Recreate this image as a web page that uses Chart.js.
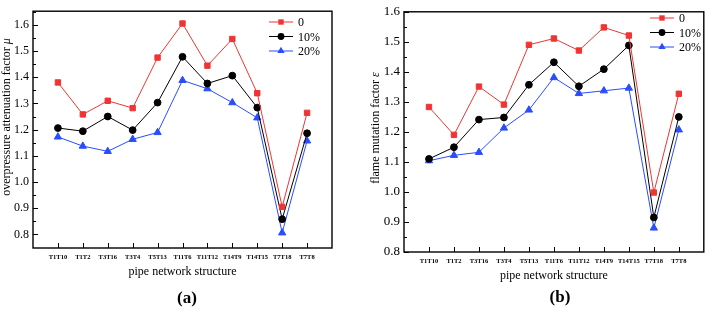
<!DOCTYPE html>
<html>
<head>
<meta charset="utf-8">
<script src="https://cdn.jsdelivr.net/npm/chart.js@4.4.0/dist/chart.umd.min.js"></script>
<style>
  body { margin: 0; background: #fff; }
  canvas { position: absolute; top: 0; }
</style>
</head>
<body>
<canvas id="chartA" style="left:0px" width="355" height="310"></canvas>
<canvas id="chartB" style="left:355px" width="354" height="310"></canvas>
<script>
// categories on the x axis (same for both panels)
const categories = ['T1T10', 'T1T2', 'T3T16', 'T3T4', 'T5T13', 'T11T6', 'T11T12', 'T14T9', 'T14T15', 'T7T18', 'T7T8'];
const seriesNames = ['0', '10%', '20%'];

// (a) overpressure attenuation factor
const mu0 = [1.380, 1.258, 1.310, 1.282, 1.475, 1.605, 1.444, 1.546, 1.339, 0.905, 1.264];
const mu10 = [1.206, 1.194, 1.250, 1.198, 1.303, 1.478, 1.376, 1.406, 1.284, 0.858, 1.186];
const mu20 = [1.172, 1.137, 1.117, 1.163, 1.189, 1.388, 1.356, 1.303, 1.245, 0.806, 1.157];
const muTicks = [0.8, 0.9, 1.0, 1.1, 1.2, 1.3, 1.4, 1.5, 1.6];

// (b) flame mutation factor
const eps0 = [1.283, 1.190, 1.351, 1.291, 1.490, 1.511, 1.471, 1.548, 1.521, 0.998, 1.327];
const eps10 = [1.110, 1.149, 1.241, 1.248, 1.357, 1.432, 1.352, 1.409, 1.488, 0.915, 1.250];
const eps20 = [1.104, 1.122, 1.132, 1.213, 1.273, 1.381, 1.328, 1.337, 1.346, 0.880, 1.207];
const epsTicks = [0.8, 0.9, 1.0, 1.1, 1.2, 1.3, 1.4, 1.5, 1.6];

const FONT = "'Liberation Serif', 'Times New Roman', serif";
const colors = ['#f03434', '#000000', '#2a4cff'];
const markers = ['rect', 'circle', 'triangle'];
const markerSize = [3.8, 3.4, 4.2];

function toPoints(values) {
  return values.map((v, i) => ({ x: i, y: v }));
}

// box round the plot + inward ticks
const framePlugin = {
  id: 'frame',
  afterDraw(chart) {
    const { ctx, chartArea: a, scales } = chart;
    const x = scales.x, y = scales.y;
    ctx.save();
    ctx.strokeStyle = '#000';
    ctx.lineWidth = 1.4;
    ctx.strokeRect(a.left, a.top, a.right - a.left, a.bottom - a.top);
    ctx.lineWidth = 1;
    ctx.beginPath();
    y.ticks.forEach((t) => {
      const py = Math.round(y.getPixelForValue(t.value)) + 0.5;
      ctx.moveTo(a.left, py);
      ctx.lineTo(a.left + 5, py);
      const minor = t.value + 0.05;
      if (minor < y.max - 0.001) {
        const pm = Math.round(y.getPixelForValue(minor)) + 0.5;
        ctx.moveTo(a.left, pm);
        ctx.lineTo(a.left + 3, pm);
      }
    });
    x.ticks.forEach((t) => {
      const px = Math.round(x.getPixelForValue(t.value)) + 0.5;
      ctx.moveTo(px, a.bottom);
      ctx.lineTo(px, a.bottom - 5);
    });
    ctx.stroke();
    ctx.restore();
  }
};

// y title with an italic symbol at the end, panel letter, legend inside the plot
const textPlugin = {
  id: 'texts',
  afterDraw(chart, args, opts) {
    const ctx = chart.ctx;
    ctx.save();
    ctx.fillStyle = '#000';
    ctx.textBaseline = 'middle';

    // y axis title
    ctx.translate(opts.titleX, opts.titleY);
    ctx.rotate(-Math.PI / 2);
    ctx.font = '12px ' + FONT;
    const w1 = ctx.measureText(opts.title + ' ').width;
    ctx.font = 'italic 12px ' + FONT;
    const w2 = ctx.measureText(opts.symbol).width;
    ctx.textAlign = 'left';
    ctx.font = '12px ' + FONT;
    ctx.fillText(opts.title + ' ', -(w1 + w2) / 2, 0);
    ctx.font = 'italic 12px ' + FONT;
    ctx.fillText(opts.symbol, -(w1 + w2) / 2 + w1, 0);
    ctx.setTransform(1, 0, 0, 1, 0, 0);

    // (a) / (b)
    ctx.font = 'bold 17px ' + FONT;
    ctx.textAlign = 'center';
    ctx.fillText(opts.letter, opts.letterX, opts.letterY);

    // legend
    ctx.font = '12px ' + FONT;
    ctx.textAlign = 'left';
    chart.data.datasets.forEach((ds, i) => {
      const ly = opts.legendY + i * opts.legendGap;
      const lx = opts.legendX;
      ctx.strokeStyle = ds.borderColor;
      ctx.fillStyle = ds.borderColor;
      ctx.lineWidth = 1;
      ctx.beginPath();
      ctx.moveTo(lx, ly);
      ctx.lineTo(lx + 24, ly);
      ctx.stroke();
      const cx = lx + 12;
      const r = ds.pointRadius;
      ctx.beginPath();
      if (ds.pointStyle === 'rect') {
        const s = r * Math.SQRT1_2;
        ctx.rect(cx - s, ly - s, 2 * s, 2 * s);
      } else if (ds.pointStyle === 'circle') {
        ctx.arc(cx, ly, r, 0, Math.PI * 2);
      } else {
        ctx.moveTo(cx, ly - r);
        ctx.lineTo(cx + r * 0.866, ly + r * 0.5);
        ctx.lineTo(cx - r * 0.866, ly + r * 0.5);
        ctx.closePath();
      }
      ctx.fill();
      ctx.fillStyle = '#000';
      ctx.fillText(ds.label, lx + 29, ly + 1);
    });
    ctx.restore();
  }
};

function makeChart(canvasId, series, yMin, yMax, yTicks, layout, texts) {
  const datasets = series.map((values, i) => ({
    label: seriesNames[i],
    data: toPoints(values),
    borderColor: colors[i],
    backgroundColor: colors[i],
    borderWidth: 1,
    pointStyle: markers[i],
    pointRadius: markerSize[i],
    pointBorderWidth: 1,
    tension: 0
  }));

  return new Chart(document.getElementById(canvasId), {
    type: 'line',
    data: { datasets },
    options: {
      responsive: false,
      animation: false,
      devicePixelRatio: 1,
      layout: { padding: { top: layout.top, right: layout.right, left: 0, bottom: 0 } },
      plugins: {
        legend: { display: false },
        tooltip: { enabled: false },
        texts: texts
      },
      scales: {
        x: {
          type: 'linear',
          min: -1,
          max: 11,
          grid: { display: false, drawTicks: false },
          border: { display: false },
          afterBuildTicks: (scale) => {
            scale.ticks = categories.map((c, i) => ({ value: i }));
          },
          afterFit: (scale) => { scale.height = layout.xHeight; },
          ticks: {
            padding: 5,
            maxRotation: 0,
            autoSkip: false,
            color: '#000',
            font: { family: FONT, size: 6.5, weight: 'bold' },
            callback: (v) => categories[v]
          },
          title: {
            display: true,
            text: 'pipe network structure',
            color: '#000',
            font: { family: FONT, size: 12 },
            padding: { top: 0, bottom: layout.xTitlePad }
          }
        },
        y: {
          min: yMin,
          max: yMax,
          grid: { display: false, drawTicks: false },
          border: { display: false },
          afterBuildTicks: (scale) => {
            scale.ticks = yTicks.map((v) => ({ value: v }));
          },
          afterFit: (scale) => { scale.width = layout.yWidth; },
          ticks: {
            padding: 4,
            color: '#000',
            font: { family: FONT, size: layout.yFont },
            callback: (v) => v.toFixed(1)
          }
        }
      }
    },
    plugins: [framePlugin, textPlugin]
  });
}

makeChart('chartA', [mu0, mu10, mu20], 0.748, 1.652, muTicks,
  { top: 5, right: 23, yWidth: 33, xHeight: 62, xTitlePad: 31, yFont: 12 },
  { title: 'overpressure attenuation factor', symbol: 'μ', titleX: 7, titleY: 117,
    letter: '(a)', letterX: 187, letterY: 299,
    legendX: 269, legendY: 22, legendGap: 14.5 });

makeChart('chartB', [eps0, eps10, eps20], 0.8, 1.6, epsTicks,
  { top: 6, right: 2, yWidth: 49, xHeight: 58, xTitlePad: 27, yFont: 13 },
  { title: 'flame mutation factor', symbol: 'ε', titleX: 21, titleY: 128,
    letter: '(b)', letterX: 205, letterY: 298,
    legendX: 295, legendY: 18, legendGap: 14.5 });
</script>
</body>
</html>
